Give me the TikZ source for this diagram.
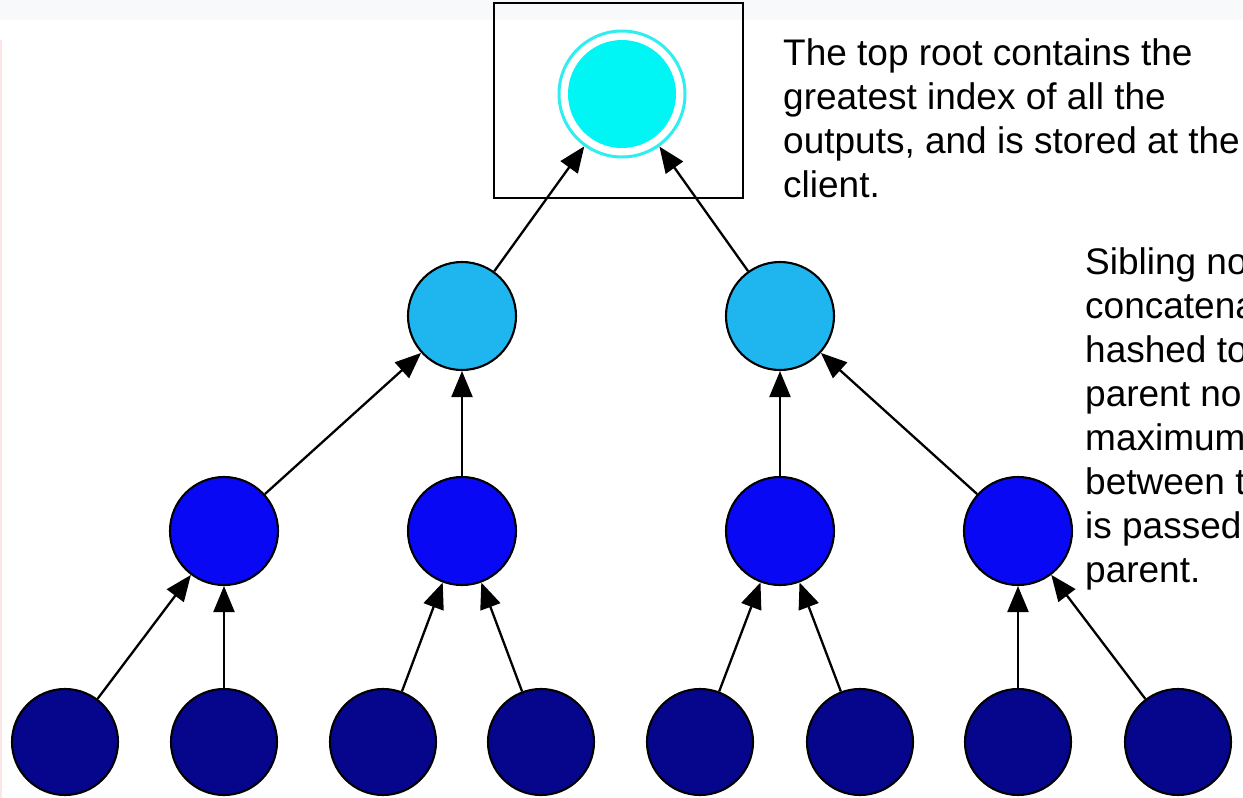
\documentclass[tikz,border=0pt]{standalone}
\usepackage{fontspec}
\setmainfont{Liberation Sans}
\usetikzlibrary{arrows.meta}
\definecolor{bandgray}{HTML}{F8F9FB}
\definecolor{edgepink}{HTML}{FBE6E6}
\definecolor{rootcyan}{HTML}{00F5F5}
\definecolor{ringcyan}{HTML}{30EDF0}
\definecolor{lvlone}{HTML}{1FB6EF}
\definecolor{lvltwo}{HTML}{0808F4}
\definecolor{lvlthree}{HTML}{06068C}
\tikzset{
  tnode/.style={circle, draw=black, line width=2.1pt, minimum size=108pt, inner sep=0pt},
  leafnode/.style={tnode, fill=lvlthree, minimum size=106pt},
  midnode/.style={tnode, fill=lvltwo},
  upnode/.style={tnode, fill=lvlone},
  link/.style={draw=black, line width=2.3pt, -{Triangle[length=26pt,width=21pt]}},
  note/.style={anchor=north west, inner sep=0pt, align=left, font=\fontsize{37}{44}\selectfont}
}
\begin{document}
\begin{tikzpicture}[x=1pt, y=-1pt]
\useasboundingbox (0,0) rectangle (1243,798);
\clip (0,0) rectangle (1243,798);
\fill[white] (0,0) rectangle (1243,798);
\fill[bandgray] (0,0) rectangle (1243,20);
\fill[edgepink] (0,40) rectangle (2,798);
% root box
\node[draw=black, line width=1.4pt, minimum width=249pt, minimum height=195pt, inner sep=0pt] (rootbox) at (618.5,100.5) {};
\node[circle, draw=ringcyan, line width=3pt, fill=white, minimum size=126pt, inner sep=0pt,
  path picture={\fill[rootcyan] (path picture bounding box.center) circle (54pt);}] (root) at (622,94) {};
% level 1
\node[upnode] (a1) at (462,316) {};
\node[upnode] (a2) at (780,316) {};
% level 2
\node[midnode] (b1) at (224,531) {};
\node[midnode] (b2) at (462,531) {};
\node[midnode] (b3) at (780,531) {};
\node[midnode] (b4) at (1018,531) {};
% level 3
\node[leafnode] (c1) at (65,742) {};
\node[leafnode] (c2) at (224,742) {};
\node[leafnode] (c3) at (383,742) {};
\node[leafnode] (c4) at (541,742) {};
\node[leafnode] (c5) at (700,742) {};
\node[leafnode] (c6) at (860,742) {};
\node[leafnode] (c7) at (1018,742) {};
\node[leafnode] (c8) at (1178,742) {};
% edges
\draw[link] (a1) -- (root);
\draw[link] (a2) -- (root);
\draw[link] (b1) -- (a1);
\draw[link] (b2) -- (a1);
\draw[link] (b3) -- (a2);
\draw[link] (b4) -- (a2);
\draw[link] (c1) -- (b1);
\draw[link] (c2) -- (b1);
\draw[link] (c3) -- (b2);
\draw[link] (c4) -- (b2);
\draw[link] (c5) -- (b3);
\draw[link] (c6) -- (b3);
\draw[link] (c7) -- (b4);
\draw[link] (c8) -- (b4);
% texts
\node[note] (t1) at (783,38) {The top root contains the\\greatest index of all the\\outputs, and is stored at the\\client.};
\node[note] (t2) at (1085,247) {Sibling no\\concatena\\hashed to\\parent no\\maximum\\between t\\is passed\\parent.};
\end{tikzpicture}
\end{document}
